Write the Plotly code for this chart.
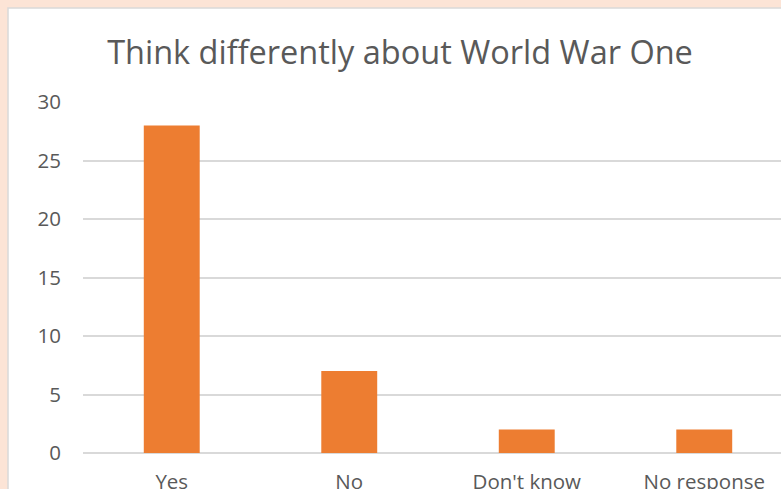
import plotly.graph_objects as go

categories = ["Yes", "No", "Don't know", "No response"]
values = [28, 7, 2, 2]
y_ticks = [0, 5, 10, 15, 20, 25, 30]

L, R, T, B = 83, 0, 102, 36
W, H = 781, 489
pw = W - L - R
ph = H - T - B

def px_to_paper_x(px):
    return (px - L) / pw

def px_to_paper_y(py):
    return (H - B - py) / ph

fig = go.Figure()
fig.add_trace(go.Bar(x=categories, y=values, marker=dict(color="#ED7D31", line=dict(width=0))))

fig.add_shape(type="rect", xref="paper", yref="paper",
              x0=px_to_paper_x(8), x1=px_to_paper_x(W + 20),
              y0=px_to_paper_y(H + 20), y1=px_to_paper_y(8),
              fillcolor="white", line=dict(color="#D9D9D9", width=1.5), layer="below")

fig.update_layout(
    width=W, height=H,
    margin=dict(l=L, r=R, t=T, b=B, autoexpand=False),
    paper_bgcolor="#FCE4D6",
    plot_bgcolor="rgba(0,0,0,0)",
    bargap=0.685,
    showlegend=False,
    font=dict(family="Open Sans", color="#595959"),
    title=dict(text="Think differently about World War One", x=400 / W,
               xanchor="center", y=1 - 53 / H, yanchor="middle",
               font=dict(size=32.5, color="#595959", family="Open Sans")),
)
fig.update_xaxes(range=[-0.5, -0.5 + pw / 177.5], showgrid=False, showline=False, zeroline=False,
                 tickfont=dict(size=20.5, color="#595959"), ticks="", ticklabelstandoff=14,
                 automargin=False)
fig.update_yaxes(range=[0, 30], tickvals=y_ticks, showgrid=True, gridcolor="#D9D9D9", gridwidth=1.5,
                 zeroline=True, zerolinecolor="#D9D9D9", zerolinewidth=1.5, showline=False,
                 tickfont=dict(size=20.5, color="#595959"), ticklabelstandoff=21, ticks="",
                 automargin=False)

fig.write_html("out.html")
